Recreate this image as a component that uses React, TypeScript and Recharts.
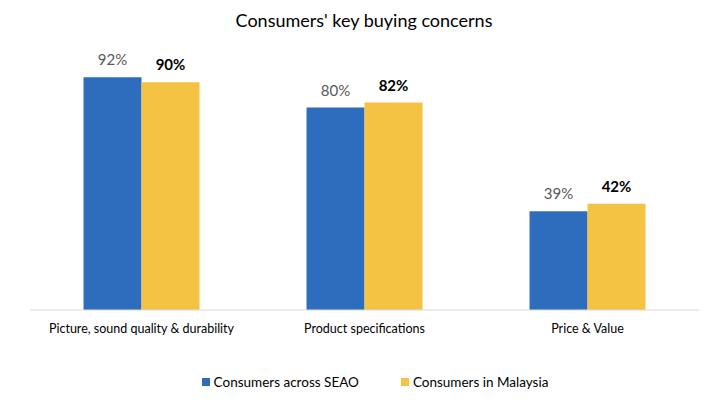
import React from 'react';
import { BarChart, Bar, XAxis, YAxis, LabelList, Legend } from 'recharts';

const categories = ['Picture, sound quality & durability', 'Product specifications', 'Price & Value'];
const seaoValues = [92, 80, 39];
const malaysiaValues = [90, 82, 42];

const data = categories.map((name, i) => ({
  name,
  seao: seaoValues[i],
  malaysia: malaysiaValues[i],
}));

const FONT = 'Lato, "Open Sans", sans-serif';
const BLUE = '#2E6DBD';
const YELLOW = '#F5C343';

const legendItems = [
  { label: 'Consumers across SEAO', color: BLUE },
  { label: 'Consumers in Malaysia', color: YELLOW },
];

function LegendContent() {
  return (
    <div
      style={{
        display: 'flex',
        justifyContent: 'center',
        gap: 42,
        paddingLeft: 22,
        fontFamily: FONT,
        fontSize: 13.5,
        color: '#000',
        lineHeight: '16px',
      }}
    >
      {legendItems.map((it) => (
        <div key={it.label} style={{ display: 'flex', alignItems: 'center' }}>
          <span style={{ width: 8, height: 8, background: it.color, marginRight: 4, display: 'inline-block' }} />
          {it.label}
        </div>
      ))}
    </div>
  );
}

export default function App() {
  return (
    <div style={{ position: 'absolute', left: 0, top: 0, width: 728, height: 410, background: '#fff' }}>
      <div
        style={{
          position: 'absolute',
          top: 9,
          left: 0,
          width: 728,
          textAlign: 'center',
          fontFamily: FONT,
          fontSize: 18,
          color: '#000',
        }}
      >
        Consumers' key buying concerns
      </div>
      <BarChart
        width={728}
        height={410}
        data={data}
        margin={{ top: 57, right: 29, left: 30, bottom: 54 }}
        barCategoryGap="24%"
        barGap={0}
      >
        <XAxis
          dataKey="name"
          height={30}
          tickLine={false}
          axisLine={{ stroke: '#D9D9D9' }}
          tick={{ fill: '#000', fontSize: 12.5, fontFamily: FONT }}
          tickMargin={8}
        />
        <YAxis hide domain={[0, 100]} />
        <Legend
          content={<LegendContent />}
          wrapperStyle={{ position: 'absolute', top: 374, left: 0, width: 728 }}
        />
        <Bar dataKey="seao" fill={BLUE} isAnimationActive={false}>
          <LabelList
            dataKey="seao"
            position="top"
            offset={12}
            formatter={(v: number) => `${v}%`}
            style={{ fill: '#595959', fontSize: 15, fontFamily: FONT }}
          />
        </Bar>
        <Bar dataKey="malaysia" fill={YELLOW} isAnimationActive={false}>
          <LabelList
            dataKey="malaysia"
            position="top"
            offset={12}
            formatter={(v: number) => `${v}%`}
            style={{ fill: '#000', fontSize: 15, fontWeight: 'bold', fontFamily: FONT }}
          />
        </Bar>
      </BarChart>
    </div>
  );
}
